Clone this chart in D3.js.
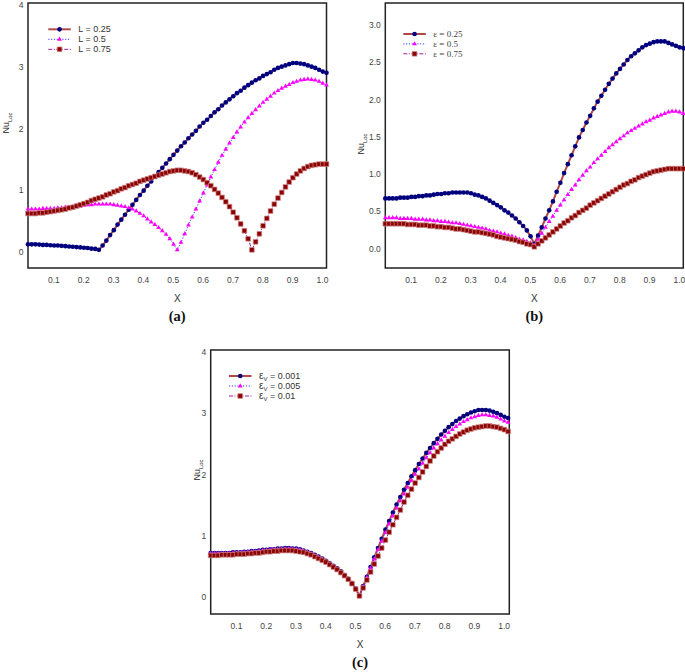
<!DOCTYPE html>
<html>
<head>
<meta charset="utf-8">
<script src="https://cdn.jsdelivr.net/npm/d3@7"></script>
<style>
  body { margin: 0; background: #fff; }
  svg text { font-family: 'Liberation Sans', Arial, sans-serif; }
  svg text.serif { font-family: 'Liberation Serif', 'Times New Roman', serif; }
</style>
</head>
<body>
<svg id="chart" width="685" height="672"></svg>
<script>
// x positions along the wall (same grid for every curve)
var X = [
  0.015,0.0275,0.04,0.0525,0.065,0.0775,0.09,0.1025,0.115,0.1275,
  0.14,0.1525,0.165,0.1775,0.19,0.2025,0.215,0.2275,0.24,0.2525,
  0.265,0.2775,0.29,0.3025,0.315,0.3275,0.34,0.3525,0.365,0.3775,
  0.39,0.4025,0.415,0.4275,0.44,0.4525,0.465,0.4775,0.49,0.5025,
  0.515,0.5275,0.54,0.5525,0.565,0.5775,0.59,0.6025,0.615,0.6275,
  0.64,0.6525,0.665,0.6775,0.69,0.7025,0.715,0.7275,0.74,0.7525,
  0.765,0.7775,0.79,0.8025,0.815,0.8275,0.84,0.8525,0.865,0.8775,
  0.89,0.9025,0.915,0.9275,0.94,0.9525,0.965,0.9775,0.99,1.0025,
  1.015];

var xTicks = [0.1,0.2,0.3,0.4,0.5,0.6,0.7,0.8,0.9,1.0];
var xTickLabels = ["0.1","0.2","0.3","0.4","0.5","0.6","0.7","0.8","0.9","1.0"];
var yTicksA = [0,1,2,3,4];
var yTickLabelsA = ["0","1","2","3","4"];
var yTicksB = [0,0.5,1,1.5,2,2.5,3];
var yTickLabelsB = ["0.0","0.5","1.0","1.5","2.0","2.5","3.0"];
var yTicksC = [0,1,2,3,4];
var yTickLabelsC = ["0","1","2","3","4"];

var legendA = ["L = 0.25","L = 0.5","L = 0.75"];
var legendB = ["\u03b5 = 0.25","\u03b5 = 0.5","\u03b5 = 0.75"];
var legendC = ["0.001","0.005","0.01"];

// (a) effect of L
var nuA1 = [
  0.12,0.12,0.12,0.115,0.11,0.11,0.105,0.10,0.10,0.095,
  0.09,0.085,0.08,0.075,0.07,0.065,0.06,0.05,0.045,0.03,
  0.10,0.18,0.27,0.35,0.44,0.52,0.60,0.68,0.76,0.84,
  0.92,0.99,1.07,1.14,1.22,1.29,1.36,1.43,1.50,1.57,
  1.64,1.71,1.77,1.84,1.90,1.96,2.03,2.09,2.14,2.20,
  2.26,2.31,2.37,2.42,2.47,2.52,2.57,2.61,2.66,2.70,
  2.74,2.78,2.81,2.85,2.88,2.91,2.95,2.98,3.00,3.02,
  3.04,3.06,3.06,3.05,3.04,3.02,3.00,2.98,2.95,2.92,
  2.90];
var nuA2 = [
  0.69,0.69,0.69,0.69,0.70,0.70,0.70,0.70,0.71,0.71,
  0.72,0.72,0.73,0.74,0.74,0.75,0.76,0.76,0.77,0.77,
  0.77,0.77,0.77,0.76,0.75,0.74,0.73,0.71,0.69,0.66,
  0.62,0.58,0.53,0.48,0.44,0.39,0.34,0.28,0.21,0.12,
  0.03,0.15,0.29,0.43,0.56,0.69,0.82,0.95,1.08,1.21,
  1.33,1.45,1.56,1.66,1.76,1.85,1.94,2.02,2.10,2.17,
  2.24,2.30,2.36,2.42,2.47,2.52,2.57,2.61,2.65,2.68,
  2.71,2.74,2.76,2.78,2.79,2.80,2.79,2.78,2.76,2.73,
  2.70];
var nuA3 = [
  0.62,0.62,0.62,0.63,0.63,0.64,0.65,0.66,0.67,0.68,
  0.69,0.71,0.72,0.74,0.76,0.78,0.80,0.83,0.85,0.87,
  0.89,0.92,0.94,0.97,0.99,1.02,1.04,1.07,1.09,1.11,
  1.14,1.16,1.18,1.20,1.22,1.24,1.26,1.28,1.30,1.31,
  1.32,1.32,1.31,1.30,1.28,1.25,1.21,1.17,1.12,1.07,
  1.01,0.95,0.88,0.81,0.73,0.64,0.55,0.45,0.34,0.21,
  0.03,0.16,0.29,0.42,0.54,0.66,0.77,0.87,0.96,1.05,
  1.13,1.20,1.26,1.31,1.35,1.38,1.40,1.41,1.42,1.42,
  1.42];

// (b) effect of epsilon
var nuB1 = [
  0.67,0.67,0.67,0.67,0.68,0.68,0.68,0.69,0.69,0.70,
  0.70,0.71,0.71,0.72,0.73,0.73,0.74,0.74,0.75,0.75,
  0.75,0.75,0.75,0.74,0.72,0.71,0.69,0.67,0.64,0.61,
  0.58,0.55,0.51,0.48,0.44,0.40,0.35,0.30,0.24,0.16,
  0.06,0.17,0.28,0.40,0.51,0.63,0.76,0.88,1.01,1.13,
  1.25,1.37,1.49,1.59,1.69,1.78,1.88,1.97,2.05,2.13,
  2.21,2.28,2.35,2.41,2.47,2.53,2.58,2.62,2.66,2.70,
  2.73,2.75,2.77,2.78,2.78,2.78,2.76,2.74,2.72,2.70,
  2.69];
var nuB2 = [
  0.41,0.41,0.41,0.41,0.40,0.40,0.40,0.40,0.39,0.39,
  0.39,0.38,0.38,0.37,0.37,0.36,0.36,0.35,0.34,0.34,
  0.33,0.32,0.31,0.30,0.29,0.28,0.27,0.26,0.24,0.23,
  0.22,0.20,0.19,0.17,0.16,0.14,0.12,0.11,0.09,0.07,
  0.04,0.12,0.20,0.28,0.36,0.43,0.51,0.58,0.65,0.72,
  0.79,0.85,0.92,0.98,1.04,1.09,1.15,1.20,1.25,1.30,
  1.35,1.39,1.43,1.47,1.51,1.55,1.58,1.61,1.64,1.67,
  1.70,1.72,1.75,1.77,1.79,1.81,1.83,1.84,1.84,1.83,
  1.81];
var nuB3 = [
  0.33,0.33,0.33,0.33,0.33,0.33,0.32,0.32,0.32,0.31,
  0.31,0.31,0.30,0.30,0.29,0.29,0.28,0.28,0.27,0.26,
  0.26,0.25,0.24,0.23,0.22,0.22,0.21,0.20,0.19,0.18,
  0.16,0.15,0.14,0.13,0.12,0.11,0.09,0.08,0.06,0.05,
  0.02,0.06,0.10,0.14,0.18,0.22,0.26,0.30,0.34,0.37,
  0.41,0.44,0.48,0.51,0.54,0.58,0.61,0.64,0.67,0.70,
  0.73,0.76,0.79,0.82,0.85,0.87,0.90,0.92,0.95,0.97,
  0.99,1.01,1.03,1.04,1.05,1.06,1.07,1.07,1.07,1.07,
  1.07];

// (c) effect of epsilon_V
var nuC1 = [
  0.72,0.72,0.72,0.72,0.72,0.72,0.73,0.73,0.73,0.74,
  0.74,0.75,0.75,0.76,0.77,0.77,0.78,0.78,0.79,0.79,
  0.80,0.80,0.79,0.79,0.78,0.76,0.74,0.72,0.69,0.66,
  0.63,0.59,0.55,0.51,0.47,0.42,0.36,0.30,0.23,0.14,
  0.02,0.18,0.33,0.49,0.65,0.80,0.95,1.10,1.24,1.38,
  1.51,1.63,1.75,1.86,1.97,2.07,2.17,2.26,2.35,2.43,
  2.51,2.58,2.65,2.71,2.77,2.82,2.87,2.91,2.95,2.98,
  3.01,3.03,3.05,3.05,3.05,3.04,3.02,3.00,2.97,2.94,
  2.92];
var nuC2 = [
  0.71,0.71,0.71,0.71,0.71,0.71,0.72,0.72,0.72,0.73,
  0.73,0.74,0.74,0.75,0.76,0.76,0.77,0.77,0.78,0.78,
  0.79,0.79,0.78,0.78,0.77,0.75,0.73,0.71,0.68,0.65,
  0.62,0.58,0.54,0.50,0.46,0.41,0.35,0.29,0.22,0.13,
  0.02,0.17,0.32,0.47,0.62,0.77,0.91,1.05,1.19,1.32,
  1.45,1.57,1.68,1.79,1.90,2.00,2.09,2.18,2.27,2.35,
  2.43,2.50,2.56,2.62,2.68,2.73,2.78,2.82,2.86,2.89,
  2.92,2.94,2.96,2.97,2.97,2.96,2.95,2.93,2.90,2.87,
  2.85];
var nuC3 = [
  0.68,0.68,0.68,0.69,0.69,0.69,0.69,0.70,0.70,0.70,
  0.71,0.71,0.72,0.72,0.73,0.74,0.74,0.75,0.75,0.76,
  0.76,0.76,0.76,0.75,0.74,0.73,0.71,0.69,0.66,0.63,
  0.60,0.57,0.53,0.49,0.45,0.40,0.35,0.29,0.22,0.13,
  0.02,0.15,0.28,0.41,0.54,0.67,0.80,0.93,1.06,1.18,
  1.30,1.42,1.55,1.66,1.76,1.86,1.95,2.04,2.13,2.22,
  2.30,2.37,2.43,2.49,2.54,2.58,2.62,2.66,2.69,2.72,
  2.74,2.76,2.77,2.78,2.79,2.79,2.78,2.77,2.75,2.73,
  2.70];

var svg = d3.select("#chart");

var styles = [
  {stroke: "#b04848", width: 2, dash: null, shape: d3.symbolCircle, size: 17, fill: "#00007f", mstroke: "none"},
  {stroke: "#3a3aff", width: 1, dash: "1.2,1.6", shape: d3.symbolTriangle, size: 10, fill: "#ff00ff", mstroke: "none"},
  {stroke: "#a020a0", width: 1, dash: "4,1.5,1,1.5", shape: d3.symbolSquare, size: 22, fill: "#8b0000", mstroke: "#d08a8a"}
];

function drawPanel(p) {
  var x = d3.scaleLinear().domain(p.xDom).range([p.left, p.right]);
  var y = d3.scaleLinear().domain(p.yDom).range([p.bottom, p.top]);
  var g = svg.append("g");

  g.append("rect")
      .attr("x", p.left).attr("y", p.top)
      .attr("width", p.right - p.left).attr("height", p.bottom - p.top)
      .attr("fill", "none").attr("stroke", "#222").attr("stroke-width", 1.5);

  var yAx = g.append("g")
      .attr("transform", "translate(" + p.left + ",0)")
      .call(d3.axisLeft(y).tickValues(p.yTicks)
        .tickFormat(function(d, i){ return p.yLabels[i]; })
        .tickSize(0).tickPadding(4.5));
  yAx.select(".domain").remove();

  var xAx = g.append("g")
      .attr("transform", "translate(0," + p.bottom + ")")
      .call(d3.axisBottom(x).tickValues(xTicks)
        .tickFormat(function(d, i){ return xTickLabels[i]; })
        .tickSize(0).tickPadding(8.5));
  xAx.select(".domain").remove();

  g.selectAll(".tick text")
      .attr("font-size", 8.5)
      .attr("fill", "#444");

  // curves
  var line = d3.line()
      .x(function(d){ return x(d[0]); })
      .y(function(d){ return y(d[1]); });

  p.series.forEach(function(vals, k){
    var st = styles[k];
    var pts = X.map(function(xv, i){ return [xv, vals[i]]; });
    g.append("path")
        .datum(pts)
        .attr("d", line)
        .attr("fill", "none")
        .attr("stroke", st.stroke)
        .attr("stroke-width", st.width)
        .attr("stroke-dasharray", st.dash);
    g.selectAll(".m" + k)
        .data(pts)
      .enter().append("path")
        .attr("class", "m" + k)
        .attr("transform", function(d){ return "translate(" + x(d[0]) + "," + y(d[1]) + ")"; })
        .attr("d", d3.symbol().type(st.shape).size(st.size))
        .attr("fill", st.fill)
        .attr("stroke", st.mstroke)
        .attr("stroke-width", 0.7);
  });

  // legend
  p.legend.forEach(function(lab, k){
    var st = styles[k], ly = p.legY + k * p.legStep;
    g.append("line")
        .attr("x1", p.legX).attr("x2", p.legX + 22.5)
        .attr("y1", ly).attr("y2", ly)
        .attr("stroke", st.stroke).attr("stroke-width", st.width)
        .attr("stroke-dasharray", st.dash);
    g.append("path")
        .attr("transform", "translate(" + (p.legX + 11.25) + "," + ly + ")")
        .attr("d", d3.symbol().type(st.shape).size(st.size))
        .attr("fill", st.fill).attr("stroke", st.mstroke).attr("stroke-width", 0.7);
    var t = g.append("text")
        .attr("x", p.legX + 30).attr("y", ly)
        .attr("dy", "0.35em")
        .attr("font-size", 9)
        .attr("fill", "#333");
    if (p.epsV) {
      t.attr("dy", null).attr("y", ly + 3);
      t.append("tspan").attr("font-size", 10).text("\u03b5");
      t.append("tspan").attr("font-size", 6).attr("dy", 2).text("V");
      t.append("tspan").attr("dy", -2).text(" = " + lab);
    } else {
      t.text(lab);
      if (p.serif) t.attr("class", "serif").attr("fill", "#444");
    }
  });

  // axis titles
  var cx = (p.left + p.right) / 2;
  g.append("text")
      .attr("x", cx).attr("y", p.bottom + 30)
      .attr("dy", "0.35em")
      .attr("text-anchor", "middle")
      .attr("font-size", 10).attr("fill", "#333")
      .text("X");

  var yt = g.append("text")
      .attr("transform", "translate(" + p.ylabX + "," + p.ylabY + ") rotate(-90)")
      .attr("text-anchor", "middle")
      .attr("font-size", 9).attr("fill", "#222");
  yt.append("tspan").text("Nu");
  yt.append("tspan").attr("font-size", 6).attr("dy", 2.5).text("Loc");

  g.append("text")
      .attr("class", "serif")
      .attr("x", cx).attr("y", p.bottom + 48)
      .attr("dy", "0.35em")
      .attr("text-anchor", "middle")
      .attr("font-weight", "bold")
      .attr("font-size", 14.5).attr("fill", "#111")
      .text(p.tag);
}

drawPanel({
  left: 28, right: 326.5, top: 3, bottom: 268,
  xDom: [0.015, 1.015], yDom: [-0.264, 4.032],
  yTicks: yTicksA, yLabels: yTickLabelsA,
  series: [nuA1, nuA2, nuA3], legend: legendA,
  legX: 48.3, legY: 29.3, legStep: 10,
  ylabX: 9, ylabY: 123, tag: "(a)"
});

drawPanel({
  left: 385.3, right: 683.3, top: 3, bottom: 268,
  xDom: [0.015, 1.015], yDom: [-0.265, 3.296],
  yTicks: yTicksB, yLabels: yTickLabelsB,
  series: [nuB1, nuB2, nuB3], legend: legendB, serif: true,
  legX: 403.3, legY: 34, legStep: 9.9,
  ylabX: 364, ylabY: 144, tag: "(b)"
});

drawPanel({
  left: 210.7, right: 509.3, top: 350, bottom: 614,
  xDom: [0.015, 1.019], yDom: [-0.275, 4.028],
  yTicks: yTicksC, yLabels: yTickLabelsC,
  series: [nuC1, nuC2, nuC3], legend: legendC, epsV: true,
  legX: 229, legY: 376, legStep: 10,
  ylabX: 200, ylabY: 470, tag: "(c)"
});
</script>
</body>
</html>
